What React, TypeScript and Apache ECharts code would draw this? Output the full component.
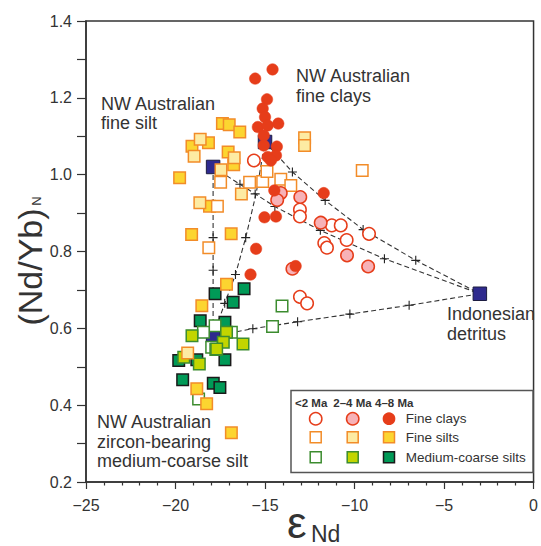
import React, { useEffect, useRef } from 'react';
import * as echarts from 'echarts';

type P = [number, number];

// ---- Data (εNd, (Nd/Yb)N) ----
const fineClays2: P[] = [
  [-15.62, 1.037], [-13.05, 0.909], [-13.05, 0.891], [-11.27, 0.868], [-10.77, 0.868],
  [-10.44, 0.83], [-11.69, 0.822], [-11.54, 0.81], [-9.19, 0.846], [-13.05, 0.682], [-12.65, 0.665],
];
const fineClays24: P[] = [
  [-14.12, 0.952], [-14.32, 0.934], [-13.03, 0.942], [-11.89, 0.875], [-10.42, 0.79],
  [-9.24, 0.761], [-13.47, 0.755],
];
const fineClays48: P[] = [
  [-14.58, 1.274], [-15.55, 1.25], [-14.89, 1.196], [-15.13, 1.172], [-15.0, 1.15],
  [-15.4, 1.124], [-14.85, 1.128], [-14.26, 1.133], [-15.07, 1.102], [-14.34, 1.073],
  [-14.39, 1.05], [-14.85, 1.046], [-14.67, 1.037], [-15.07, 1.076], [-14.48, 0.959],
  [-15.03, 0.889], [-14.39, 0.891], [-15.5, 0.807], [-15.81, 0.74], [-13.29, 0.762], [-11.72, 0.952],
];
const fineSilts2: P[] = [
  [-17.48, 0.98], [-15.86, 0.98], [-15.13, 0.982], [-14.12, 0.988], [-13.56, 0.972],
  [-14.89, 1.008], [-17.66, 0.918], [-18.14, 0.81], [-9.57, 1.011],
];
const fineSilts24: P[] = [
  [-18.62, 1.092], [-18.96, 1.048], [-17.46, 1.013], [-16.72, 1.044], [-16.32, 0.95],
  [-18.64, 0.927], [-12.79, 1.096], [-12.79, 1.076], [-19.32, 0.536],
];
const fineSilts48: P[] = [
  [-19.77, 0.992], [-19.08, 1.074], [-18.16, 1.083], [-17.38, 1.133], [-17.0, 1.13],
  [-16.41, 1.111], [-17.06, 1.059], [-16.75, 1.026], [-19.1, 0.844], [-16.89, 0.846],
  [-18.1, 0.918], [-17.15, 0.715], [-18.53, 0.659], [-18.81, 0.443], [-18.26, 0.404], [-16.88, 0.328],
];
const medSilts2: P[] = [
  [-17.79, 0.607], [-18.44, 0.59], [-16.88, 0.59], [-17.98, 0.551], [-17.75, 0.545],
  [-14.05, 0.658], [-14.58, 0.605], [-18.71, 0.416],
];
const medSilts24: P[] = [
  [-19.08, 0.581], [-17.15, 0.59], [-16.23, 0.559], [-17.33, 0.564], [-17.7, 0.546],
  [-19.54, 0.525], [-18.67, 0.507],
];
const medSilts48: P[] = [
  [-17.79, 0.69], [-16.78, 0.668], [-16.17, 0.703], [-18.62, 0.62], [-17.24, 0.616],
  [-19.82, 0.516], [-18.81, 0.518], [-17.24, 0.518], [-19.6, 0.466], [-17.89, 0.457], [-17.52, 0.446],
];
const endMembers: P[] = [[-17.9, 1.02], [-15.0, 1.085], [-17.9, 0.58], [-3.0, 0.69]];

// mixing curves
const mixClayIndo: P[] = [[-15.0, 1.085], [-13.47, 1.007], [-11.64, 0.933], [-9.52, 0.857], [-6.58, 0.777], [-3.0, 0.69]];
const mixSiltIndo: P[] = [[-17.9, 1.02], [-16.4, 0.975], [-15.55, 0.95], [-14.45, 0.917], [-11.91, 0.855], [-8.33, 0.781], [-3.0, 0.69]];
const mixMedIndo: P[] = [[-17.9, 0.58], [-15.68, 0.599], [-13.18, 0.617], [-10.26, 0.637], [-6.95, 0.66], [-3.0, 0.69]];
const mixSiltMed: P[] = [[-17.9, 1.02], [-17.9, 0.836], [-17.9, 0.751], [-17.9, 0.58]];
const mixMedClay: P[] = [[-17.9, 0.58], [-17.25, 0.665], [-16.65, 0.74], [-16.08, 0.836], [-15.5, 0.95], [-15.0, 1.085]];
const mixCrosses: P[] = [
  [-13.47, 1.007], [-11.64, 0.933], [-9.52, 0.857], [-6.58, 0.777],
  [-16.4, 0.975], [-15.55, 0.95], [-14.45, 0.917], [-11.91, 0.855], [-8.33, 0.781],
  [-15.68, 0.599], [-13.18, 0.617], [-10.26, 0.637], [-6.95, 0.66],
  [-17.9, 0.836], [-17.9, 0.751],
  [-17.25, 0.665], [-16.65, 0.74], [-16.08, 0.836],
];

const xTicks = { min: -25, max: 0, step: 5 };
const yTicks = { min: 0.2, max: 1.4, step: 0.1 };

const FONT = '"Liberation Sans", Arial, Helvetica, sans-serif';
const INK = '#333';
const RED = '#e63d1a';
const PINK = '#f7b2b7';
const ORANGE = '#f28c28';
const YELLOW = '#fcd530';
const LIGHTY = '#fdeba3';
const GREEN = '#3c8c2f';
const YGREEN = '#c2d500';
const DGREEN = '#009a57';
const NAVY = '#2e2a8e';

function scatter(data: P[], symbol: string, size: number, fill: string, stroke: string, bw: number) {
  return {
    type: 'scatter', data, symbol, symbolSize: size, silent: true, z: 3,
    itemStyle: { color: fill, borderColor: stroke, borderWidth: bw, opacity: 1 },
  };
}
function mix(data: P[]) {
  return {
    type: 'line', data, symbol: 'none', showSymbol: false, silent: true, z: 2,
    lineStyle: { color: INK, width: 1.1, type: [5, 3] },
  };
}
function txt(x: number, y: number, text: string, size: number, extra: any = {}) {
  const { weight, align, rotation } = extra;
  return {
    type: 'text', x, y, silent: true, rotation: rotation || 0,
    style: {
      text, fill: INK,
      font: `${weight || 'normal'} ${size}px ${FONT}`,
      align: align || 'left', verticalAlign: 'middle',
      textAlign: align || 'left', textVerticalAlign: 'middle',
    },
  };
}
function circ(cx: number, cy: number, r: number, fill: string, stroke: string) {
  return { type: 'circle', silent: true, shape: { cx, cy, r }, style: { fill, stroke, lineWidth: 1.5 } };
}
function sq(cx: number, cy: number, s: number, fill: string, stroke: string) {
  return { type: 'rect', silent: true, shape: { x: cx - s / 2, y: cy - s / 2, width: s, height: s }, style: { fill, stroke, lineWidth: 1.5 } };
}

export default function App() {
  const ref = useRef<HTMLDivElement>(null);
  useEffect(() => {
    document.body.style.margin = '0';
    const chart = echarts.init(ref.current!, null, { renderer: 'svg' });
    const lx = [315.7, 352.7, 389];
    const ly = [418.7, 437.3, 457.3];
    chart.setOption({
      animation: false,
      backgroundColor: '#fff',
      grid: { left: 86, right: 2, top: 21, bottom: 64, show: true, borderColor: INK, borderWidth: 1.5 },
      xAxis: {
        type: 'value', min: xTicks.min, max: xTicks.max, interval: xTicks.step,
        axisLine: { show: true, onZero: false, lineStyle: { color: INK, width: 1.5 } },
        axisTick: { show: true, length: 7, lineStyle: { color: INK, width: 1.2 } },
        minorTick: { show: true, splitNumber: 5, length: 3.5, lineStyle: { color: INK, width: 1.2 } },
        splitLine: { show: false },
        axisLabel: {
          fontSize: 16, color: INK, fontFamily: FONT, margin: 15,
          formatter: (v: number) => (v < 0 ? '\u2212' + Math.abs(v) : String(v)),
        },
      },
      yAxis: {
        type: 'value', min: yTicks.min, max: yTicks.max, interval: yTicks.step,
        axisLine: { show: true, onZero: false, lineStyle: { color: INK, width: 1.5 } },
        axisTick: { show: true, length: 9, lineStyle: { color: INK, width: 1.2 } },
        splitLine: { show: false },
        axisLabel: {
          fontSize: 16, color: INK, fontFamily: FONT, margin: 14,
          formatter: (v: number) => {
            const k = Math.round(v * 10);
            return k % 2 === 0 ? (k / 10).toFixed(1) : '';
          },
        },
      },
      series: [
        mix(mixClayIndo), mix(mixSiltIndo), mix(mixMedIndo), mix(mixSiltMed), mix(mixMedClay),
        { ...scatter(mixCrosses, 'path://M0,5L10,5M5,0L5,10', 9, 'none', '#222', 1.1), z: 2 },
        scatter(endMembers.slice(0, 3), 'rect', 13.5, NAVY, '#1c1c40', 1),
        scatter(medSilts48, 'rect', 11.5, DGREEN, '#1a1a1a', 1.5),
        scatter(medSilts2, 'rect', 11.5, '#fff', GREEN, 1.5),
        scatter(medSilts24, 'rect', 11.5, YGREEN, GREEN, 1.5),
        scatter(fineSilts48, 'rect', 11.5, YELLOW, ORANGE, 1.5),
        scatter(fineSilts24, 'rect', 11.5, LIGHTY, ORANGE, 1.5),
        scatter(fineSilts2, 'rect', 11.5, '#fff', ORANGE, 1.5),
        scatter(fineClays2, 'circle', 12.5, '#fff', RED, 1.5),
        scatter(fineClays24, 'circle', 12.5, PINK, RED, 1.5),
        scatter(fineClays48, 'circle', 11.5, RED, RED, 0.5),
        scatter(endMembers.slice(3), 'rect', 13.5, NAVY, '#1c1c40', 1),
      ],
      graphic: [
        // annotations
        txt(101, 103.8, 'NW Australian', 18), txt(101, 123.3, 'fine silt', 18),
        txt(296, 76, 'NW Australian', 18), txt(296, 95.5, 'fine clays', 18),
        txt(447, 314, 'Indonesian', 18), txt(447, 333.5, 'detritus', 18),
        txt(97, 422.2, 'NW Australian', 18), txt(97, 441.7, 'zircon-bearing', 18), txt(97, 461.2, 'medium-coarse silt', 18),
        // axis titles
        txt(30, 267, '(Nd/Yb)', 34, { align: 'center', rotation: Math.PI / 2 }),
        txt(36.5, 201, 'N', 13, { align: 'center', rotation: Math.PI / 2 }),
        txt(287, 522.5, '\u03b5', 44),
        txt(311, 533.5, 'Nd', 23),
        // legend
        { type: 'rect', silent: true, shape: { x: 291, y: 390.5, width: 242, height: 82 }, style: { fill: '#fff', stroke: '#555', lineWidth: 1.5 } },
        txt(295, 403, '<2 Ma', 11.5, { weight: 'bold' }),
        txt(333.3, 403, '2\u20134 Ma', 11.5, { weight: 'bold' }),
        txt(375, 403, '4\u20138 Ma', 11.5, { weight: 'bold' }),
        circ(lx[0], ly[0], 6.2, '#fff', RED), circ(lx[1], ly[0], 6.2, PINK, RED), circ(lx[2], ly[0], 5.6, RED, RED),
        sq(lx[0], ly[1], 11, '#fff', ORANGE), sq(lx[1], ly[1], 11, LIGHTY, ORANGE), sq(lx[2], ly[1], 11, YELLOW, ORANGE),
        sq(lx[0], ly[2], 11, '#fff', GREEN), sq(lx[1], ly[2], 11, YGREEN, GREEN), sq(lx[2], ly[2], 11, DGREEN, '#1a1a1a'),
        txt(405.7, ly[0], 'Fine clays', 13.5), txt(405.7, ly[1], 'Fine silts', 13.5), txt(405.7, ly[2], 'Medium-coarse silts', 13.5),
      ],
    });
    return () => chart.dispose();
  }, []);
  return <div ref={ref} style={{ position: 'absolute', left: 0, top: 0, width: 541, height: 546 }} />;
}
